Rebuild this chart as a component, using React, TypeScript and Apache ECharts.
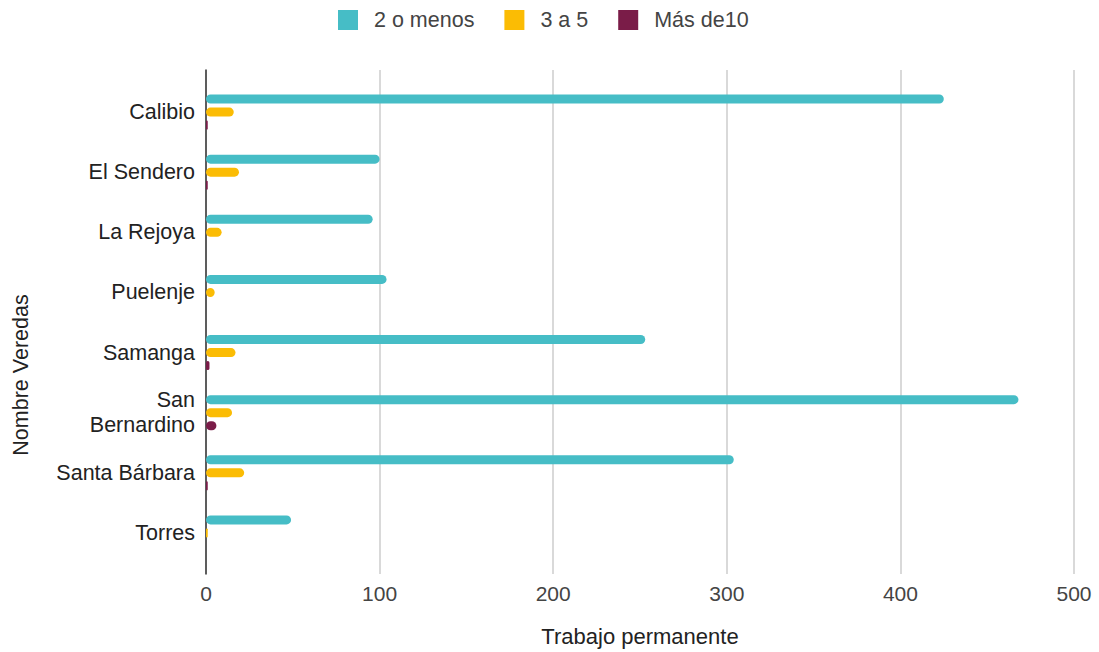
import React, { useEffect, useRef } from "react";
import * as echarts from "echarts";

const categories = ["Calibio", "El Sendero", "La Rejoya", "Puelenje", "Samanga", "San\nBernardino", "Santa Bárbara", "Torres"];
const dosOMenos = [425, 100, 96, 104, 253, 468, 304, 49];
const tresACinco = [16, 19, 9, 5, 17, 15, 22, 1];
const masDe10 = [1, 1, 0, 0, 2, 6, 1, 0];
const seriesNames = ["2 o menos", "3 a 5", "Más de10"];
const colors = ["#46bdc6", "#fbbc04", "#7a1c48"];

export default function App() {
  const ref = useRef<HTMLDivElement>(null);
  useEffect(() => {
    document.body.style.margin = "0";
    const chart = echarts.init(ref.current!, null, { renderer: "svg" });
    const font = "'Liberation Sans', Arial, sans-serif";
    const mk = (name: string, data: number[], color: string) => ({
      name,
      type: "bar",
      xAxisIndex: 1,
      yAxisIndex: 1,
      data,
      barWidth: 9,
      barGap: "45%",
      itemStyle: { color, borderRadius: 4.5 },
    });
    chart.setOption({
      animation: false,
      color: colors,
      textStyle: { fontFamily: font },
      legend: {
        top: 4,
        left: 333,
        itemWidth: 20,
        itemHeight: 20,
        itemGap: 30,
        icon: "rect",
        textStyle: { fontSize: 21.5, color: "#444", fontFamily: font, padding: [0, 0, 0, 11] },
        data: seriesNames,
      },
      grid: [
        { left: 206, right: 25, top: 70, bottom: 77, containLabel: false },
        { left: 206, right: 25, top: 82, height: 481, containLabel: false },
      ],
      xAxis: [
        {
          gridIndex: 0,
          type: "value",
          min: 0,
          max: 500,
          interval: 100,
          axisLine: { show: false },
          axisTick: { show: false },
          splitLine: { show: true, lineStyle: { color: "#cccccc", width: 1.5 } },
          axisLabel: { fontSize: 21, color: "#444", margin: 9, fontFamily: font },
          name: "Trabajo permanente",
          nameLocation: "middle",
          nameGap: 51,
          nameTextStyle: { fontSize: 22, color: "#222", fontFamily: font },
        },
        {
          gridIndex: 1,
          type: "value",
          min: 0,
          max: 500,
          interval: 100,
          show: false,
          splitLine: { show: false },
        },
      ],
      yAxis: [
        {
          gridIndex: 0,
          type: "category",
          data: [""],
          axisLine: { show: true, lineStyle: { color: "#333", width: 1.5 } },
          axisTick: { show: false },
          axisLabel: { show: false },
          splitLine: { show: false },
        },
        {
          gridIndex: 1,
          type: "category",
          inverse: true,
          data: categories,
          axisLine: { show: false },
          axisTick: { show: false },
          axisLabel: { fontSize: 21.5, color: "#222", margin: 11, fontFamily: font, lineHeight: 25 },
        },
      ],
      graphic: [
        {
          type: "text",
          x: 21,
          y: 375,
          rotation: Math.PI / 2,
          style: {
            text: "Nombre Veredas",
            fontSize: 21.5,
            fill: "#222",
            fontFamily: font,
            align: "center",
            verticalAlign: "middle",
          },
        },
      ],
      series: [
        mk(seriesNames[0], dosOMenos, colors[0]),
        mk(seriesNames[1], tresACinco, colors[1]),
        mk(seriesNames[2], masDe10, colors[2]),
      ],
    });
    return () => chart.dispose();
  }, []);
  return <div ref={ref} style={{ width: 1099, height: 652 }} />;
}
